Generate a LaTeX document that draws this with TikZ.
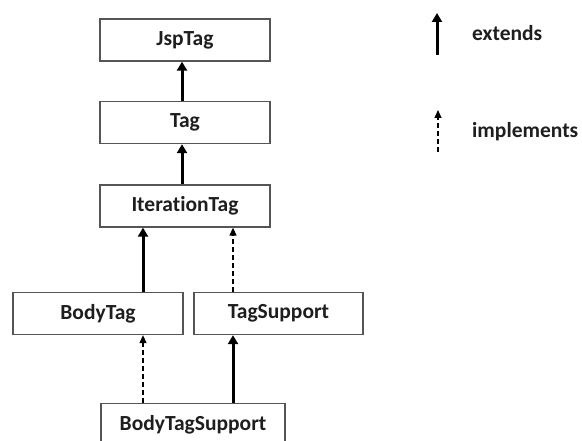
\documentclass[tikz,border=0pt]{standalone}
\usepackage{fontspec}
\setmainfont[Ligatures={NoCommon}]{Carlito}
\usetikzlibrary{arrows.meta}
\definecolor{boxline}{HTML}{555555}
\definecolor{ink}{HTML}{1E1E1E}
\tikzset{
  cls/.style={draw=boxline, line width=1.3pt, fill=white, minimum width=170pt,
    minimum height=42pt, inner sep=0pt, text=ink, font=\fontsize{21.5}{24}\selectfont\bfseries},
  ext/.style={line width=3pt, -{Triangle[length=9pt,width=10pt]}},
  impl/.style={line width=1.2pt, dash pattern=on 5pt off 3pt, -{Triangle[length=8pt,width=7pt]}},
  lbl/.style={anchor=west, inner sep=0pt, text=ink, font=\fontsize{21.5}{24}\selectfont\bfseries}
}
\begin{document}
\begin{tikzpicture}[x=1pt,y=-1pt]
  \useasboundingbox (0,0) rectangle (582,441);
  \begin{scope}
    \clip (0,0) rectangle (582,441);

    % class boxes
    \node[cls] (jsp)  at (185,40)    {JspTag};
    \node[cls] (tag)  at (185,122.5) {Tag};
    \node[cls] (iter) at (185,206)   {IterationTag};
    \node[cls] (body) at (98,313.5)  {BodyTag};
    \node[cls, minimum width=169pt] (supp) at (278.5,313.5) {TagSupport};
    \node[cls, minimum width=184pt] (bts)  at (193,424.5) {BodyTagSupport};

    % columns of the lower connectors
    \coordinate (colL) at (143,0);
    \coordinate (colR) at (233,0);

    % inheritance
    \draw[ext] ([xshift=-3pt]tag.north) -- ([xshift=-3pt]jsp.south);
    \draw[ext] ([xshift=-3pt]iter.north) -- ([xshift=-3pt]tag.south);
    \draw[ext] (body.north -| colL) -- (iter.south -| colL);
    \draw[impl] (supp.north -| colR) -- (iter.south -| colR);
    \draw[impl] (bts.north -| colL) -- (body.south -| colL);
    \draw[ext] (bts.north -| colR) -- (supp.south -| colR);

    % legend
    \coordinate (e0) at (437,55);
    \coordinate (e1) at (437,13);
    \draw[ext] (e0) -- (e1);
    \node[lbl] (extlbl) at (472,33) {extends};
    \coordinate (i0) at (438,152);
    \coordinate (i1) at (438,110);
    \draw[impl] (i0) -- (i1);
    \node[lbl] (impllbl) at (472,132) {implements};
  \end{scope}
\end{tikzpicture}
\end{document}
